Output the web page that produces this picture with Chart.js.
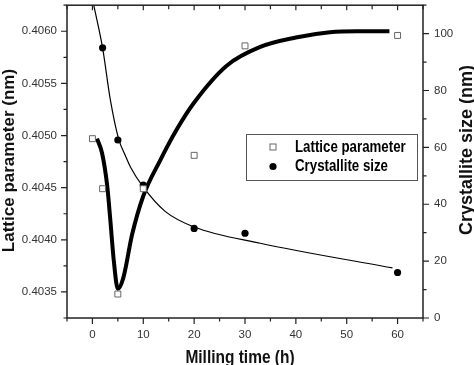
<!DOCTYPE html>
<html>
<head>
<meta charset="utf-8">
<script src="https://cdn.jsdelivr.net/npm/chart.js@4.4.0/dist/chart.umd.min.js"></script>
<style>
  html, body { margin: 0; padding: 0; background: #fff; }
</style>
</head>
<body>
<canvas id="chart" width="474" height="365"></canvas>
<script>
// measured points
const latticeTime = [0, 2, 5, 10, 20, 30, 60];
const latticeValues = [0.40497, 0.40449, 0.40348, 0.40449, 0.40481, 0.40586, 0.40596];
const sizeTime = [2, 5, 10, 20, 30, 60];
const sizeValues = [95, 62.6, 46.7, 31.5, 29.8, 16];

// fitted curves
const latticeFitTime = [0.9, 1.9, 2.9, 3.5, 4.2, 5.0, 6.1, 7.8, 10, 13.3, 16.6, 19.9, 26.4, 33, 40, 46.7, 52, 58.4];
const latticeFitValues = [0.40497, 0.40483, 0.40452, 0.40420, 0.40380, 0.40353, 0.40364, 0.40405, 0.40442, 0.40476, 0.40506, 0.40531, 0.40567, 0.40585, 0.40594, 0.40599, 0.40600, 0.40600];
const sizeFitTime = [0.26, 2, 3.5, 5.15, 6.5, 7.5, 10, 14.3, 20, 33, 59];
const sizeFitValues = [110, 95, 77, 63, 57, 53, 46, 37.5, 32, 26.3, 17.6];

// axis ticks
const timeTicks = [0, 10, 20, 30, 40, 50, 60];
const timeMinor = [-5, 5, 15, 25, 35, 45, 55, 65];
const latticeTicks = [0.4035, 0.4040, 0.4045, 0.4050, 0.4055, 0.4060];
const latticeMinor = [0.40325, 0.40375, 0.40425, 0.40475, 0.40525, 0.40575, 0.40625];
const sizeTicks = [0, 20, 40, 60, 80, 100];
const sizeMinor = [10, 30, 50, 70, 90, 110];

const FONT = '"Liberation Sans", Arial, sans-serif';
const INK = '#222';

function pts(xs, ys) {
  return xs.map((x, i) => ({ x: x, y: ys[i] }));
}

function noPad(s) {
  s.paddingTop = 0;
  s.paddingBottom = 0;
  s.paddingLeft = 0;
  s.paddingRight = 0;
}

const decor = {
  id: 'decor',
  afterDraw(chart) {
    const ctx = chart.ctx;
    const a = chart.chartArea;
    const x = chart.scales.x, y = chart.scales.y, y2 = chart.scales.y2;
    ctx.save();
    ctx.strokeStyle = INK;
    ctx.lineWidth = 1.5;
    ctx.strokeRect(a.left, a.top, a.right - a.left, a.bottom - a.top);

    ctx.lineWidth = 1.2;
    ctx.beginPath();
    timeTicks.forEach(v => {
      const p = x.getPixelForValue(v);
      ctx.moveTo(p, a.bottom); ctx.lineTo(p, a.bottom + 6);
      ctx.moveTo(p, a.top); ctx.lineTo(p, a.top + 5);
    });
    timeMinor.forEach(v => {
      const p = x.getPixelForValue(v);
      ctx.moveTo(p, a.bottom); ctx.lineTo(p, a.bottom + 3.5);
      ctx.moveTo(p, a.top); ctx.lineTo(p, a.top + 4);
    });
    latticeTicks.forEach(v => {
      const p = y.getPixelForValue(v);
      ctx.moveTo(a.left, p); ctx.lineTo(a.left - 6, p);
    });
    latticeMinor.forEach(v => {
      const p = y.getPixelForValue(v);
      ctx.moveTo(a.left, p); ctx.lineTo(a.left - 3.5, p);
    });
    sizeTicks.forEach(v => {
      const p = y2.getPixelForValue(v);
      ctx.moveTo(a.right, p); ctx.lineTo(a.right + 6, p);
    });
    sizeMinor.forEach(v => {
      const p = y2.getPixelForValue(v);
      ctx.moveTo(a.right, p); ctx.lineTo(a.right + 3.5, p);
    });
    ctx.stroke();

    // axis titles
    ctx.fillStyle = '#111';
    ctx.textAlign = 'center';
    ctx.textBaseline = 'alphabetic';
    ctx.font = 'bold 18px ' + FONT;
    ctx.save();
    ctx.translate(240, 363);
    ctx.scale(0.86, 1);
    ctx.fillText('Milling time (h)', 0, 0);
    ctx.restore();

    ctx.font = 'bold 17px ' + FONT;
    ctx.save();
    ctx.translate(14, 160.5);
    ctx.rotate(-Math.PI / 2);
    ctx.fillText('Lattice parameter (nm)', 0, 0);
    ctx.restore();

    ctx.font = 'bold 18px ' + FONT;
    ctx.save();
    ctx.translate(472, 150);
    ctx.rotate(-Math.PI / 2);
    ctx.fillText('Crystallite size (nm)', 0, 0);
    ctx.restore();

    // legend
    ctx.strokeStyle = '#555';
    ctx.lineWidth = 1;
    ctx.strokeRect(246.5, 134.5, 171, 46);
    ctx.fillStyle = '#fff';
    ctx.strokeStyle = '#666';
    ctx.fillRect(270, 144, 6, 6);
    ctx.strokeRect(270, 144, 6, 6);
    ctx.fillStyle = '#000';
    ctx.beginPath();
    ctx.arc(273, 166.5, 3.6, 0, Math.PI * 2);
    ctx.fill();
    ctx.font = 'bold 16px ' + FONT;
    ctx.textAlign = 'left';
    ctx.textBaseline = 'middle';
    ctx.save();
    ctx.translate(295, 148);
    ctx.scale(0.83, 1);
    ctx.fillText('Lattice parameter', 0, 0);
    ctx.fillText('Crystallite size', 0, 19);
    ctx.restore();
    ctx.restore();
  }
};

const tickFont = { family: FONT, size: 11.5 };

new Chart(document.getElementById('chart'), {
  type: 'scatter',
  data: {
    datasets: [
      {
        label: 'Lattice parameter fit',
        type: 'line',
        data: pts(latticeFitTime, latticeFitValues),
        yAxisID: 'y',
        borderColor: '#000',
        borderWidth: 4,
        pointRadius: 0,
        cubicInterpolationMode: 'monotone',
        fill: false,
        order: 1
      },
      {
        label: 'Crystallite size fit',
        type: 'line',
        data: pts(sizeFitTime, sizeFitValues),
        yAxisID: 'y2',
        borderColor: '#000',
        borderWidth: 1.2,
        pointRadius: 0,
        cubicInterpolationMode: 'monotone',
        fill: false,
        order: 1
      },
      {
        label: 'Lattice parameter',
        data: pts(latticeTime, latticeValues),
        yAxisID: 'y',
        pointStyle: 'rect',
        pointRadius: 4.2,
        backgroundColor: '#fff',
        borderColor: '#666',
        borderWidth: 1,
        order: 0
      },
      {
        label: 'Crystallite size',
        data: pts(sizeTime, sizeValues),
        yAxisID: 'y2',
        pointStyle: 'circle',
        pointRadius: 3.6,
        backgroundColor: '#000',
        borderColor: '#000',
        borderWidth: 0,
        order: 0
      }
    ]
  },
  options: {
    responsive: false,
    animation: false,
    layout: { padding: { top: 1, left: 0, right: 0, bottom: 0 } },
    plugins: { legend: { display: false }, tooltip: { enabled: false } },
    scales: {
      x: {
        type: 'linear',
        position: 'bottom',
        min: -5,
        max: 65,
        afterBuildTicks: s => { s.ticks = timeTicks.map(v => ({ value: v })); },
        afterFit: s => { s.height = 47; noPad(s); },
        grid: { display: false, drawTicks: false },
        border: { display: false },
        ticks: { font: tickFont, color: '#333', padding: 10, maxRotation: 0, autoSkip: false }
      },
      y: {
        position: 'left',
        min: 0.40325,
        max: 0.40625,
        afterBuildTicks: s => { s.ticks = latticeTicks.map(v => ({ value: v })); },
        afterFit: s => { s.width = 67; noPad(s); },
        grid: { display: false, drawTicks: false },
        border: { display: false },
        ticks: { font: tickFont, color: '#333', padding: 10, callback: v => v.toFixed(4) }
      },
      y2: {
        position: 'right',
        min: 0,
        max: 110,
        afterBuildTicks: s => { s.ticks = sizeTicks.map(v => ({ value: v })); },
        afterFit: s => { s.width = 51; noPad(s); },
        grid: { display: false, drawTicks: false },
        border: { display: false },
        ticks: { font: tickFont, color: '#333', padding: 11 }
      }
    }
  },
  plugins: [decor]
});
</script>
</body>
</html>
